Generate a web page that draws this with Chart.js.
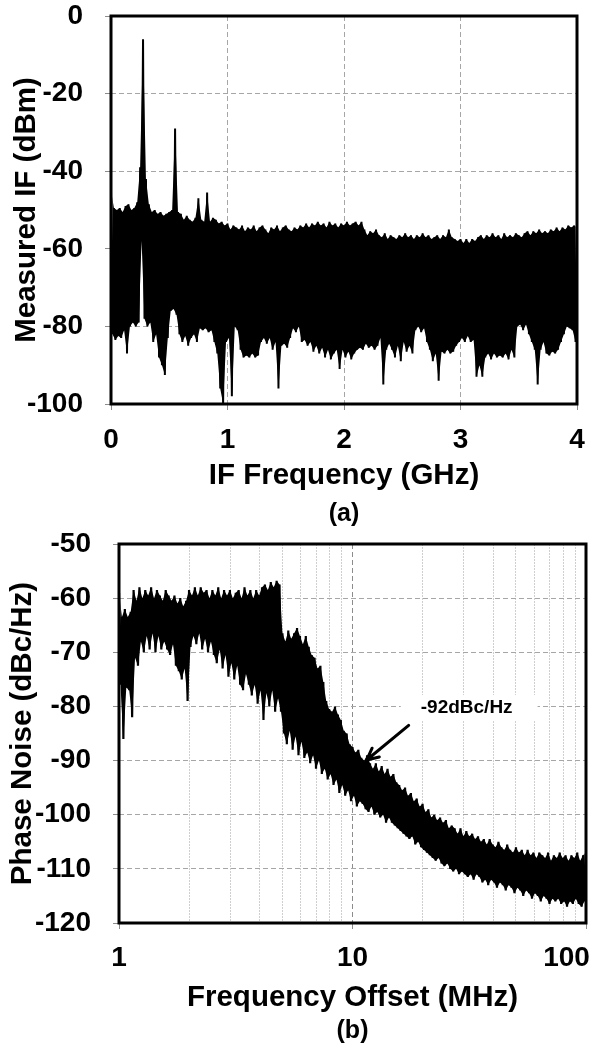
<!DOCTYPE html>
<html>
<head>
<meta charset="utf-8">
<script src="https://cdn.jsdelivr.net/npm/chart.js@4.4.1/dist/chart.umd.min.js"></script>
<style>
  html, body { margin: 0; padding: 0; background: #fff; }
  .panel { position: absolute; left: 0; }
</style>
</head>
<body>
<div class="panel" style="top:0"><canvas id="if-chart" width="589" height="530"></canvas></div>
<div class="panel" style="top:530px"><canvas id="pn-chart" width="589" height="521"></canvas></div>
<script>
// (a) measured IF spectrum, one sample every 0.025 GHz.
// upper edge of the noisy trace at k*step, lower edge at k*step + step/2
const ifStep = 0.025;
const ifUpper = [
    -45, -49.5, -50, -49.5, -50.5, -49, -48.5, -50, -49.5, -48,
    -39, -6, -42, -48.5, -50.5, -50, -51, -50.5, -51.5, -51,
    -50.5, -50, -29, -50.5, -51, -52.5, -51.5, -52.5, -53, -52,
    -47, -52.5, -53, -45.5, -53, -52, -52.5, -53.5, -53, -54,
    -53.5, -55, -54, -54.5, -55, -54, -55.5, -54.5, -55, -54,
    -55.5, -54.5, -54, -55, -56, -54.5, -55, -54, -55.5, -54.5,
    -54, -55, -55.5, -54.5, -55, -54, -54.5, -53.5, -54.5, -53.5,
    -54, -53, -54, -53.5, -54.5, -53, -54, -53.5, -54.5, -53.5,
    -54, -53, -54, -53.5, -53, -54, -53, -55, -56.5, -55.5,
    -56, -55, -56.5, -57, -56, -57.5, -56.5, -57, -57.5, -56.5,
    -57, -56, -57, -56.5, -57.5, -56.5, -57, -56, -57, -56.5,
    -57.5, -57, -56.5, -57.5, -56.5, -57, -55, -57, -57.5, -58,
    -57.5, -58.5, -57.5, -58.5, -57.5, -58, -57, -56.5, -57.5, -56.5,
    -57, -56, -57, -56.5, -57.5, -56, -57, -56.5, -57, -56,
    -56.5, -57, -56, -55.5, -56.5, -55.5, -56, -55, -56, -55.5,
    -56, -55, -55.5, -54.5, -55.5, -54.5, -55, -54, -54.5, -54,
    -54.5
];
const ifLower = [
    -82, -83.5, -82.5, -83, -81, -87, -80, -79, -80, -79,
    -58, -78, -80, -79, -84, -82, -88, -90, -92.5, -83,
    -76, -75.5, -77, -82, -84, -82.5, -85, -83, -82, -84,
    -80.5, -81, -80.5, -81.5, -81, -84, -87, -96, -100, -84,
    -83, -98, -80, -81, -86, -88, -87.5, -88, -87, -88,
    -87.5, -84, -83, -84.5, -83, -86, -84, -96, -85, -84.5,
    -85.5, -83, -80.5, -81.5, -80, -84, -83.5, -85, -84, -86.5,
    -85, -87, -85.5, -88, -86, -88.5, -87, -86, -91, -86,
    -88, -86.5, -88.5, -87, -86, -85.5, -86, -84.5, -85.5, -85,
    -86, -85, -83, -95, -86, -84.5, -86, -88, -85, -89,
    -84, -86.5, -85, -87, -81, -80, -81.5, -80.5, -84, -86,
    -89, -87, -94, -86.5, -87, -86, -87, -86.5, -85, -84,
    -83, -84, -82.5, -84, -83.5, -93, -90, -93, -88, -87,
    -88.5, -87, -88, -87.5, -88, -87, -88.5, -86, -88, -80,
    -79.5, -81, -79.5, -82, -84, -86, -95, -86, -84, -87,
    -87.5, -86.5, -87, -86, -84, -82, -80, -80.5, -81, -84
];
const ifXTicks = [0, 1, 2, 3, 4];
const ifYTicks = [-100, -80, -60, -40, -20, 0];

// (b) phase noise, 80 samples per decade from 1 MHz to 100 MHz.
// upper edge at 10^(k/80), lower edge at 10^((k+0.5)/80)
const pnPerDecade = 80;
const pnUpper = [
    -59, -63.5, -62, -63.5, -62.5, -58.5, -60.5, -58, -60, -58.5,
    -59.5, -58, -60, -58.5, -59.5, -60.5, -58.5, -59.5, -60.5, -59.5,
    -61, -60, -61.5, -60.5, -58.5, -59.5, -58, -59.5, -58, -59,
    -58.5, -60, -58.5, -59.5, -58, -60, -58.5, -59.5, -58.5, -60,
    -59, -58.5, -60, -58, -59.5, -58.5, -60, -58.5, -59.5, -58,
    -57.5, -58.5, -57, -58, -56.8, -57.5, -66.5, -68, -66, -67.5,
    -66.5, -65.5, -67, -68.5, -67, -69, -70.5, -71, -73, -72.5,
    -75.5, -79, -80.5, -81, -80, -81.5, -82.5, -84.5, -85, -87,
    -87.5, -88.5, -88, -89.5, -90, -89, -90.5, -91.5, -90.5, -92,
    -91, -92.5, -91.5, -93, -92.5, -94, -94.5, -95.5, -95, -96.5,
    -96, -97.5, -97, -98.5, -98, -99.5, -99, -100.5, -100, -101,
    -100.5, -101.5, -101, -102.5, -102, -102.5, -103.5, -102.5, -104, -103,
    -104, -103.5, -104.5, -104, -105, -104.5, -105.5, -104.5, -105.5, -106,
    -105, -106, -106.5, -105.5, -106.5, -107, -106, -107, -106.5, -107.5,
    -106.5, -107.5, -107, -108, -107, -107.5, -108, -107, -108.5, -107.5,
    -108, -107, -108, -107.5, -108.5, -107.5, -108, -107, -108.5, -107.5,
    -107
];
const pnLower = [
    -76, -86, -76.5, -77, -82, -71, -72.5, -68, -70, -67,
    -69.5, -66.5, -70, -67, -69.5, -68, -69.5, -70.5, -68.5, -72.5,
    -73.5, -75, -73, -79, -69, -67, -68.5, -66.5, -69.5, -67.5,
    -70, -68, -70.5, -72, -69.5, -73, -70.5, -74.5, -72, -75,
    -72.5, -76, -77, -74, -76, -78, -76, -79.5, -77, -82.5,
    -77.5, -80, -77, -81, -78.5, -81, -85, -87, -84.5, -88,
    -85.5, -89, -86.5, -89.5, -88.5, -90.5, -89, -91.5, -90, -92.5,
    -91.5, -93.5, -92.5, -94.5, -93.5, -96, -94.5, -96.5, -95.5, -97.5,
    -96.5, -98.5, -97.5, -98, -99, -99.5, -98.5, -100, -99.5, -100.5,
    -100, -101.5, -100.5, -101.5, -102, -102.5, -103, -103.5, -104, -104.5,
    -104, -105.5, -105, -106, -106.5, -107, -107.5, -108, -108.5, -108,
    -109, -109.5, -109, -110, -110.5, -110, -111, -110.5, -111, -111.5,
    -111, -112, -111, -111.5, -112.5, -112, -113, -112, -112.5, -113.5,
    -112.5, -113, -114, -113, -113.5, -114.5, -113.5, -114, -115, -114,
    -114.5, -115.5, -114.5, -115, -116, -115, -115.5, -116.5, -115.5, -116,
    -115.5, -116.5, -116, -117, -116, -116.5, -115.5, -116.5, -117, -116
];
const pnXLabels = [1, 10, 100];
const pnYTicks = [-120, -110, -100, -90, -80, -70, -60, -50];

// arrow note on (b), in MHz / dBc/Hz
const noteText = '-92dBc/Hz';
const noteAt = [19.6, -80.3];
const arrowTail = [17.4, -83.5];
const arrowHead = [11.5, -89.9];

const fontFamily = '"Liberation Sans", Arial, Helvetica, sans-serif';
const tickFont = { family: fontFamily, size: 28, weight: 'bold' };
const titleFont = { family: fontFamily, size: 29.5, weight: 'bold' };
const panelFont = { family: fontFamily, size: 25, weight: 'bold' };

// zigzag between the two edges = the dense trace; edges alone = the solid body
const ifTop = ifUpper.map((v, i) => ({ x: i * ifStep, y: v }));
const ifBottom = ifLower.map((v, i) => ({ x: (i + 0.5) * ifStep, y: v }));
const ifTrace = ifTop.flatMap((p, i) => (ifBottom[i] ? [p, ifBottom[i]] : [p]));

const pnTop = pnUpper.map((v, k) => ({ x: Math.pow(10, k / pnPerDecade), y: v }));
const pnBottom = pnLower.map((v, k) => ({ x: Math.pow(10, (k + 0.5) / pnPerDecade), y: v }));
const pnTrace = pnTop.flatMap((p, k) => (pnBottom[k] ? [p, pnBottom[k]] : [p]));

// 1..9, 10..90, 100 for the log grid
const pnXGrid = [1, 10].flatMap(d => [1, 2, 3, 4, 5, 6, 7, 8, 9].map(m => m * d)).concat(100);
const isDecade = v => Math.abs(Math.log10(v) - Math.round(Math.log10(v))) < 1e-9;

const plotFrame = {
    id: 'plotFrame',
    afterDatasetsDraw(chart) {
        const { ctx, chartArea: a } = chart;
        ctx.save();
        ctx.strokeStyle = '#000';
        ctx.lineWidth = 3;
        ctx.strokeRect(a.left, a.top, a.right - a.left, a.bottom - a.top);
        ctx.restore();
    },
};

const arrowNote = {
    id: 'arrowNote',
    afterDatasetsDraw(chart) {
        const { ctx, scales: { x, y } } = chart;
        ctx.save();
        ctx.font = `bold 19px ${fontFamily}`;
        const tx = x.getPixelForValue(noteAt[0]);
        const ty = y.getPixelForValue(noteAt[1]);
        const w = ctx.measureText(noteText).width;
        ctx.fillStyle = '#fff';
        ctx.fillRect(tx - 20, ty - 13, w + 45, 26);
        ctx.fillStyle = '#000';
        ctx.textBaseline = 'middle';
        ctx.fillText(noteText, tx, ty);

        const x0 = x.getPixelForValue(arrowTail[0]);
        const y0 = y.getPixelForValue(arrowTail[1]);
        const x1 = x.getPixelForValue(arrowHead[0]);
        const y1 = y.getPixelForValue(arrowHead[1]);
        const ang = Math.atan2(y1 - y0, x1 - x0);
        ctx.strokeStyle = '#000';
        ctx.lineWidth = 3;
        ctx.lineCap = 'round';
        ctx.beginPath();
        ctx.moveTo(x0, y0);
        ctx.lineTo(x1, y1);
        for (const s of [-1, 1]) {
            ctx.moveTo(x1, y1);
            ctx.lineTo(x1 - 13 * Math.cos(ang + s * 0.45), y1 - 13 * Math.sin(ang + s * 0.45));
        }
        ctx.stroke();
        ctx.restore();
    },
};

const traceStyle = {
    borderColor: '#000',
    pointRadius: 0,
    tension: 0,
    fill: false,
    borderJoinStyle: 'bevel',
};
const bodyStyle = {
    borderWidth: 0,
    pointRadius: 0,
    tension: 0,
    backgroundColor: '#000',
};

function traceSets(trace, top, bottom, width) {
    return [
        { ...traceStyle, data: trace, borderWidth: width },
        { ...bodyStyle, data: top, fill: '+1' },
        { ...bodyStyle, data: bottom, fill: false },
    ];
}

new Chart(document.getElementById('if-chart'), {
    type: 'line',
    data: { datasets: traceSets(ifTrace, ifTop, ifBottom, 2) },
    options: {
        responsive: false,
        animation: false,
        events: [],
        parsing: false,
        layout: { padding: { top: 16, right: 12, left: 0, bottom: 0 } },
        plugins: {
            legend: { display: false },
            tooltip: { enabled: false },
            title: {
                display: true,
                text: '(a)',
                position: 'bottom',
                fullSize: false,
                color: '#000',
                font: panelFont,
                padding: { top: 0, bottom: 0.5 },
            },
        },
        scales: {
            x: {
                type: 'linear',
                min: 0,
                max: 4,
                afterBuildTicks: s => { s.ticks = ifXTicks.map(v => ({ value: v })); },
                afterFit: s => { s.height = 95.5; s.paddingLeft = 0; s.paddingRight = 0; },
                ticks: { color: '#000', font: tickFont, padding: 13, maxRotation: 0, autoSkip: false },
                grid: { color: '#a6a6a6', lineWidth: 1, tickLength: 6, tickColor: '#8c8c8c', tickBorderDash: [] },
                border: { display: false, dash: [5, 3] },
                title: {
                    display: true,
                    text: 'IF Frequency (GHz)',
                    color: '#000',
                    font: titleFont,
                    padding: { top: 0, bottom: 5.8 },
                },
            },
            y: {
                min: -100,
                max: 0,
                afterBuildTicks: s => { s.ticks = ifYTicks.map(v => ({ value: v })); },
                afterFit: s => { s.width = 111; s.paddingTop = 0; s.paddingBottom = 0; },
                ticks: { color: '#000', font: tickFont, padding: 22, autoSkip: false },
                grid: { color: '#a6a6a6', lineWidth: 1, tickLength: 6, tickColor: '#8c8c8c', tickBorderDash: [] },
                border: { display: false, dash: [5, 3] },
                title: {
                    display: true,
                    text: 'Measured IF (dBm)',
                    color: '#000',
                    font: titleFont,
                    padding: { top: 9, bottom: 0 },
                },
            },
        },
    },
    plugins: [plotFrame],
});

new Chart(document.getElementById('pn-chart'), {
    type: 'line',
    data: { datasets: traceSets(pnTrace, pnTop, pnBottom, 2.2) },
    options: {
        responsive: false,
        animation: false,
        events: [],
        parsing: false,
        layout: { padding: { top: 14, right: 3, left: 0, bottom: 0 } },
        plugins: {
            legend: { display: false },
            tooltip: { enabled: false },
            title: {
                display: true,
                text: '(b)',
                position: 'bottom',
                fullSize: false,
                color: '#000',
                font: panelFont,
                padding: { top: 0, bottom: 4.5 },
            },
        },
        scales: {
            x: {
                type: 'logarithmic',
                min: 1,
                max: 100,
                afterBuildTicks: s => { s.ticks = pnXGrid.map(v => ({ value: v, major: isDecade(v) })); },
                afterFit: s => { s.height = 93.5; s.paddingLeft = 0; s.paddingRight = 0; },
                ticks: {
                    color: '#000',
                    font: tickFont,
                    padding: 12,
                    maxRotation: 0,
                    autoSkip: false,
                    // the last label sits left of its tick, as in the original
                    callback: v => {
                        if (!pnXLabels.some(l => Math.abs(l - v) < 1e-9)) return '';
                        return v === pnXLabels[pnXLabels.length - 1] ? `${v}\u2007\u2007 ` : `${v}`;
                    },
                },
                grid: {
                    color: c => (c.tick && isDecade(c.tick.value) ? '#8c8c8c' : '#cfcfcf'),
                    lineWidth: 1,
                    tickLength: 6,
                    tickColor: c => (c.tick && isDecade(c.tick.value) ? '#8c8c8c' : 'rgba(0,0,0,0)'),
                    tickBorderDash: [],
                },
                border: { display: false, dash: c => (c.tick && isDecade(c.tick.value) ? [5, 3] : [2, 1]) },
                title: {
                    display: true,
                    text: 'Frequency Offset (MHz)',
                    color: '#000',
                    font: titleFont,
                    padding: { top: 0, bottom: 0.8 },
                },
            },
            y: {
                min: -120,
                max: -50,
                afterBuildTicks: s => { s.ticks = pnYTicks.map(v => ({ value: v })); },
                afterFit: s => { s.width = 119; s.paddingTop = 0; s.paddingBottom = 0; },
                ticks: { color: '#000', font: tickFont, padding: 22, autoSkip: false },
                grid: { color: '#a6a6a6', lineWidth: 1, tickLength: 6, tickColor: '#8c8c8c', tickBorderDash: [] },
                border: { display: false, dash: [5, 3] },
                title: {
                    display: true,
                    text: 'Phase Noise (dBc/Hz)',
                    color: '#000',
                    font: titleFont,
                    padding: { top: 4.8, bottom: 0 },
                },
            },
        },
    },
    plugins: [arrowNote, plotFrame],
});
</script>
</body>
</html>
